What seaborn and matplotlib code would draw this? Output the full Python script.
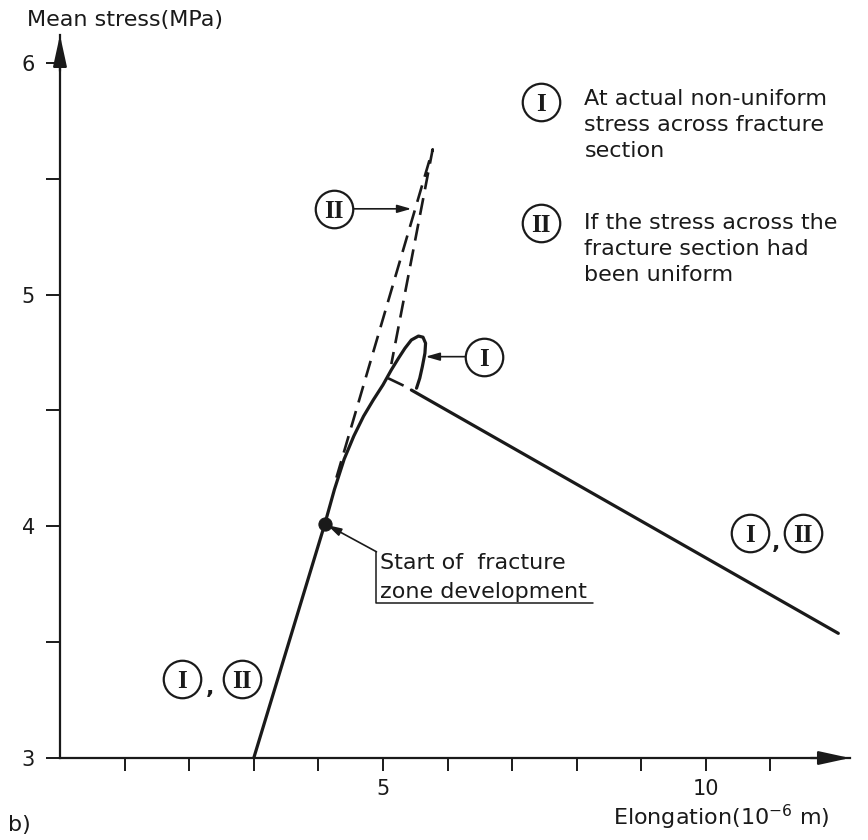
import numpy as np
import pandas as pd
import seaborn as sns
import matplotlib.pyplot as plt

# curve I : actual non-uniform stress (elastic line, curved part, loop)
curve_I_x = [3.00, 4.10, 4.25, 4.40, 4.55, 4.70, 4.85, 5.00, 5.13, 5.24, 5.34, 5.44,
             5.55, 5.62, 5.66, 5.65, 5.61, 5.57, 5.52]
curve_I_y = [3.00, 4.01, 4.16, 4.29, 4.39, 4.475, 4.545, 4.61, 4.675, 4.725, 4.768, 4.804,
             4.821, 4.816, 4.79, 4.747, 4.689, 4.639, 4.596]

# softening branch, common to I and II
soft_x = [5.44, 12.05]
soft_y = [4.588, 3.538]

# curve II : uniform stress (dashed)
uniform_x = [4.28, 5.77, 5.13]
uniform_y = [4.21, 5.627, 4.70]
drop_x = [5.08, 5.44]
drop_y = [4.639, 4.591]

# start of fracture zone development
start_x = [4.10]
start_y = [4.01]

x_ticks = [1, 2, 3, 4, 5, 6, 7, 8, 9, 10, 11]
x_ticklabels = ['', '', '', '', '5', '', '', '', '', '10', '']
y_ticks = [3, 3.5, 4, 4.5, 5, 5.5, 6]
y_ticklabels = ['3', '', '4', '', '5', '', '6']

sns.set_theme(style='white')
plt.rcParams['font.family'] = ['DejaVu Sans']
plt.rcParams['text.color'] = 'k'
plt.rcParams['xtick.color'] = 'k'
plt.rcParams['ytick.color'] = 'k'

fig = plt.figure(figsize=(8.68, 8.40), dpi=100)
ax = fig.add_axes([0.0691, 0.0976, 0.9101, 0.8607])

sns.lineplot(x=curve_I_x, y=curve_I_y, sort=False, estimator=None, color='k', lw=2.3, ax=ax)
sns.lineplot(x=soft_x, y=soft_y, sort=False, estimator=None, color='k', lw=2.3, ax=ax)
sns.lineplot(x=uniform_x, y=uniform_y, sort=False, estimator=None, color='k', lw=1.9,
             linestyle=(0, (6.5, 3.4)), ax=ax)
sns.lineplot(x=drop_x, y=drop_y, sort=False, estimator=None, color='k', lw=1.9,
             linestyle=(0, (6.5, 3.4)), ax=ax)
sns.scatterplot(x=start_x, y=start_y, color='k', s=90, edgecolor='k', zorder=5, ax=ax)

ax.set_xlim(0, 12.23)
ax.set_ylim(3, 6.12)

# axes with arrow heads
for s in ['top', 'right']:
    ax.spines[s].set_visible(False)
for s in ['left', 'bottom']:
    ax.spines[s].set_linewidth(1.6)
    ax.spines[s].set_color('k')
arrow = dict(arrowstyle='-|>,head_length=1.6,head_width=0.35', color='k', lw=1.6,
             shrinkA=0, shrinkB=0)
ax.annotate('', xy=(1, 0), xytext=(0.95, 0), xycoords='axes fraction', arrowprops=arrow)
ax.annotate('', xy=(0, 1), xytext=(0, 0.95), xycoords='axes fraction', arrowprops=arrow)

ax.set_xticks(x_ticks)
ax.set_xticklabels(x_ticklabels)
ax.set_yticks(y_ticks)
ax.set_yticklabels(y_ticklabels)
ax.tick_params(axis='x', direction='out', length=9, width=1.4, pad=6, labelsize=15,
               bottom=True, color='k', labelcolor='k')
ax.tick_params(axis='y', direction='out', length=10, width=1.4, pad=8, labelsize=15,
               left=True, color='k', labelcolor='k')
ax.set_xlabel('')
ax.set_ylabel('')
ax.grid(False)

fig.text(0.031, 0.976, 'Mean stress(MPa)', fontsize=16, va='center', ha='left', color='k')
fig.text(0.956, 0.027, 'Elongation(10$^{-6}$ m)', fontsize=16, va='center', ha='right', color='k')
fig.text(0.009, 0.018, 'b)', fontsize=16, va='center', ha='left', color='k')


def circled(x, y, s):
    ax.plot([x], [y], 'o', ms=27, mfc='white', mec='k', mew=1.6, zorder=6, clip_on=False)
    ax.text(x, y, s, ha='center', va='center_baseline', family='Liberation Serif',
            weight='bold', fontsize=18, color='k', zorder=7)


small_arrow = dict(arrowstyle='-|>,head_length=0.7,head_width=0.2', color='k', lw=1.2,
                   shrinkA=0, shrinkB=0)

# II pointer on the dashed line
circled(4.24, 5.37, 'II')
ax.annotate('', xy=(5.44, 5.37), xytext=(4.53, 5.37), arrowprops=small_arrow)

# I pointer on the loop
circled(6.56, 4.732, 'I')
ax.annotate('', xy=(5.66, 4.732), xytext=(6.27, 4.732), arrowprops=small_arrow)

# legend
circled(7.44, 5.83, 'I')
legend_I = ['At actual non-uniform', 'stress across fracture', 'section']
for i, line in enumerate(legend_I):
    ax.text(8.12, 5.845 - i * 0.113, line, fontsize=16, va='center', ha='left', color='k')
circled(7.44, 5.31, 'II')
legend_II = ['If the stress across the', 'fracture section had', 'been uniform']
for i, line in enumerate(legend_II):
    ax.text(8.12, 5.31 - i * 0.113, line, fontsize=16, va='center', ha='left', color='k')

# start of fracture zone development
ax.annotate('', xy=(4.14, 4.005), xytext=(4.90, 3.89), arrowprops=small_arrow)
ax.plot([4.90, 4.90, 8.25], [3.89, 3.67, 3.67], color='k', lw=1.1)
ax.text(4.96, 3.84, 'Start of  fracture', fontsize=16, va='center', ha='left', color='k')
ax.text(4.96, 3.715, 'zone development', fontsize=16, va='center', ha='left', color='k')

# I, II labels
circled(1.89, 3.34, 'I')
circled(2.82, 3.34, 'II')
ax.text(2.33, 3.30, ',', fontsize=16, ha='center', va='center', weight='bold', color='k')
circled(10.69, 3.97, 'I')
circled(11.50, 3.97, 'II')
ax.text(11.09, 3.93, ',', fontsize=16, ha='center', va='center', weight='bold', color='k')

fig.savefig('out.png', dpi=100)
